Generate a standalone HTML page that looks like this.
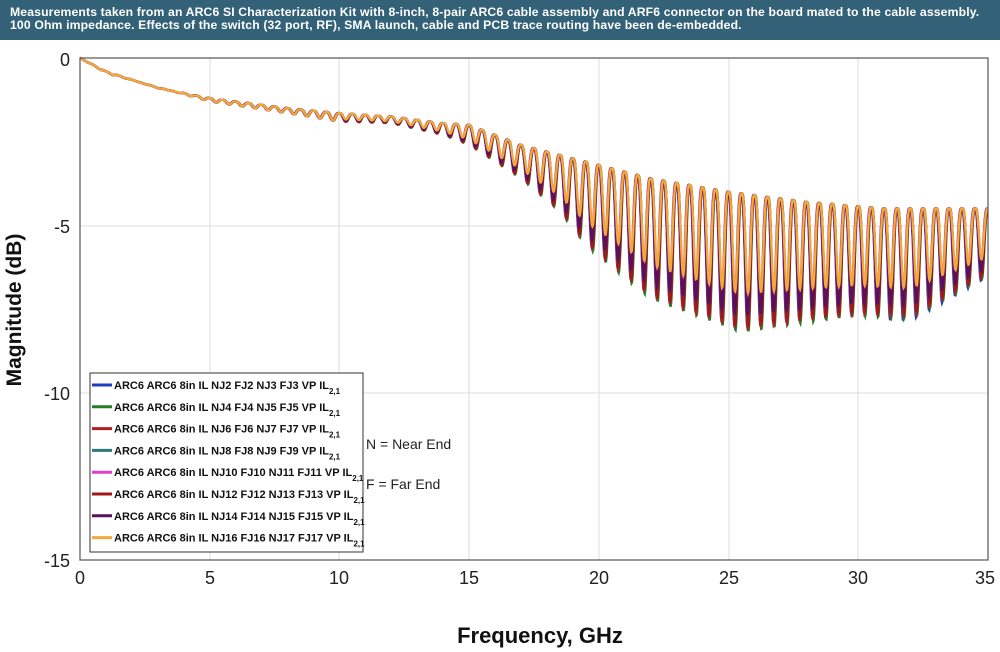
<!DOCTYPE html>
<html><head><meta charset="utf-8"><style>
body{margin:0;width:1000px;height:652px;background:#fff;overflow:hidden;font-family:"Liberation Sans",sans-serif}
#hdr{position:absolute;left:0;top:0;width:1000px;height:40px;background:#336278;color:#fff;font-size:12.2px;font-weight:bold;line-height:12.5px;padding:6px 0 0 10px;box-sizing:border-box;letter-spacing:0.15px;white-space:nowrap}
</style></head><body>
<div id="hdr">Measurements taken from an ARC6 SI Characterization Kit with 8-inch, 8-pair ARC6 cable assembly and ARF6 connector on the board mated to the cable assembly.<br>100 Ohm impedance. Effects of the switch (32 port, RF), SMA launch, cable and PCB trace routing have been de-embedded.</div>
<svg id="s" width="1000" height="652" style="position:absolute;left:0;top:0" font-family="Liberation Sans, sans-serif">
<g stroke="#ddd" stroke-width="1">
<line x1="80" y1="226" x2="988" y2="226"/><line x1="80" y1="393" x2="988" y2="393"/>
<line x1="210" y1="58" x2="210" y2="560"/><line x1="339" y1="58" x2="339" y2="560"/><line x1="469" y1="58" x2="469" y2="560"/><line x1="599" y1="58" x2="599" y2="560"/><line x1="729" y1="58" x2="729" y2="560"/><line x1="858" y1="58" x2="858" y2="560"/>
</g>
<g id="curves" fill="none" stroke-width="2.4"></g>
<rect x="80" y="58" width="908" height="502" fill="none" stroke="#555" stroke-width="1.2"/>
<g font-size="18" fill="#222" text-anchor="end">
<text x="70" y="66">0</text><text x="70" y="233">-5</text><text x="70" y="400">-10</text><text x="70" y="567">-15</text></g>
<g font-size="18" fill="#222" text-anchor="middle">
<text x="80" y="584">0</text><text x="210" y="584">5</text><text x="339" y="584">10</text><text x="469" y="584">15</text><text x="599" y="584">20</text><text x="729" y="584">25</text><text x="858" y="584">30</text><text x="985" y="584">35</text></g>
<text x="540" y="643" font-size="22" font-weight="bold" text-anchor="middle" fill="#111">Frequency, GHz</text>
<text transform="translate(21,310) rotate(-90)" font-size="21" font-weight="bold" text-anchor="middle" fill="#111">Magnitude (dB)</text>
<rect x="90" y="373" width="273" height="179" fill="#fff" stroke="#333" stroke-width="1"/>
<g id="leg" font-size="11" font-weight="bold" fill="#111"></g>
<text x="366" y="449" font-size="14" fill="#222">N = Near End</text>
<text x="366" y="489" font-size="14" fill="#222">F = Far End</text>
</svg>
<script>
(function(){
var cols=["#1f3fbf","#2a7a2a","#b02020","#2a7b78","#e040d0","#a01818","#5a1060","#f2a83a"];
var depth=[0.97,1.0,0.98,0.93,0.85,0.95,0.88,0.72];
var phs=[0.04,-0.03,0.02,0.0,0.05,-0.02,0.03,0.0];
var names=["NJ2 FJ2 NJ3 FJ3","NJ4 FJ4 NJ5 FJ5","NJ6 FJ6 NJ7 FJ7","NJ8 FJ8 NJ9 FJ9","NJ10 FJ10 NJ11 FJ11","NJ12 FJ12 NJ13 FJ13","NJ14 FJ14 NJ15 FJ15","NJ16 FJ16 NJ17 FJ17"];
var ns="http://www.w3.org/2000/svg";
function lerp(pts,f){for(var i=1;i<pts.length;i++){if(f<=pts[i][0]){var a=pts[i-1],b=pts[i];return a[1]+(b[1]-a[1])*(f-a[0])/(b[0]-a[0]);}}return pts[pts.length-1][1];}
var tp=[[0,0],[1,-0.4],[3,-0.9],[5,-1.2],[8,-1.5],[10,-1.65],[12,-1.75],[14,-1.95],[15,-2.0],[17,-2.6],[19,-3.0],[20,-3.2],[22,-3.6],[25,-4.0],[28,-4.3],[31,-4.5],[35,-4.5]];
var bt=[[0,0],[1,-0.45],[5,-1.3],[8,-1.65],[10,-1.9],[12,-1.95],[14,-2.3],[15,-2.6],[17,-3.6],[18.5,-4.6],[19.5,-5.6],[22,-7.2],[25.5,-8.2],[28,-7.9],[30,-7.7],[32,-7.8],[35,-6.5]];
var g=document.getElementById("curves");
for(var k=0;k<8;k++){
 var d="";
 for(var x=80;x<=988;x+=0.4){
  var f=(x-80)/908*35,t=lerp(tp,f),b=lerp(bt,f);
  var dep=(t-b)*(f>10?depth[k]:1);
  if(k==0&&f>31)dep*=1.05;
  var th=2*Math.PI*(f/0.5+phs[k]);
  var w=(1-Math.cos(th))/2;
  var v=t-dep*Math.pow(w,1.6);
  var y=58+(-v)*33.45;
  d+=(d?"L":"M")+x.toFixed(1)+" "+y.toFixed(1);
 }
 var p=document.createElementNS(ns,"path");p.setAttribute("d",d);p.setAttribute("stroke",cols[k]);g.appendChild(p);
}
var L=document.getElementById("leg");
for(var i=0;i<8;i++){
 var y=385+i*21.8;
 var l=document.createElementNS(ns,"line");l.setAttribute("x1",92);l.setAttribute("x2",112);l.setAttribute("y1",y);l.setAttribute("y2",y);l.setAttribute("stroke",cols[i]);l.setAttribute("stroke-width",3);L.appendChild(l);
 var t=document.createElementNS(ns,"text");t.setAttribute("x",114);t.setAttribute("y",y+4);
 t.appendChild(document.createTextNode("ARC6 ARC6 8in IL "+names[i]+" VP IL"));
 var s=document.createElementNS(ns,"tspan");s.setAttribute("font-size","8");s.setAttribute("dy","5");s.appendChild(document.createTextNode("2,1"));t.appendChild(s);
 L.appendChild(t);
}
})();
</script>
</body></html>
